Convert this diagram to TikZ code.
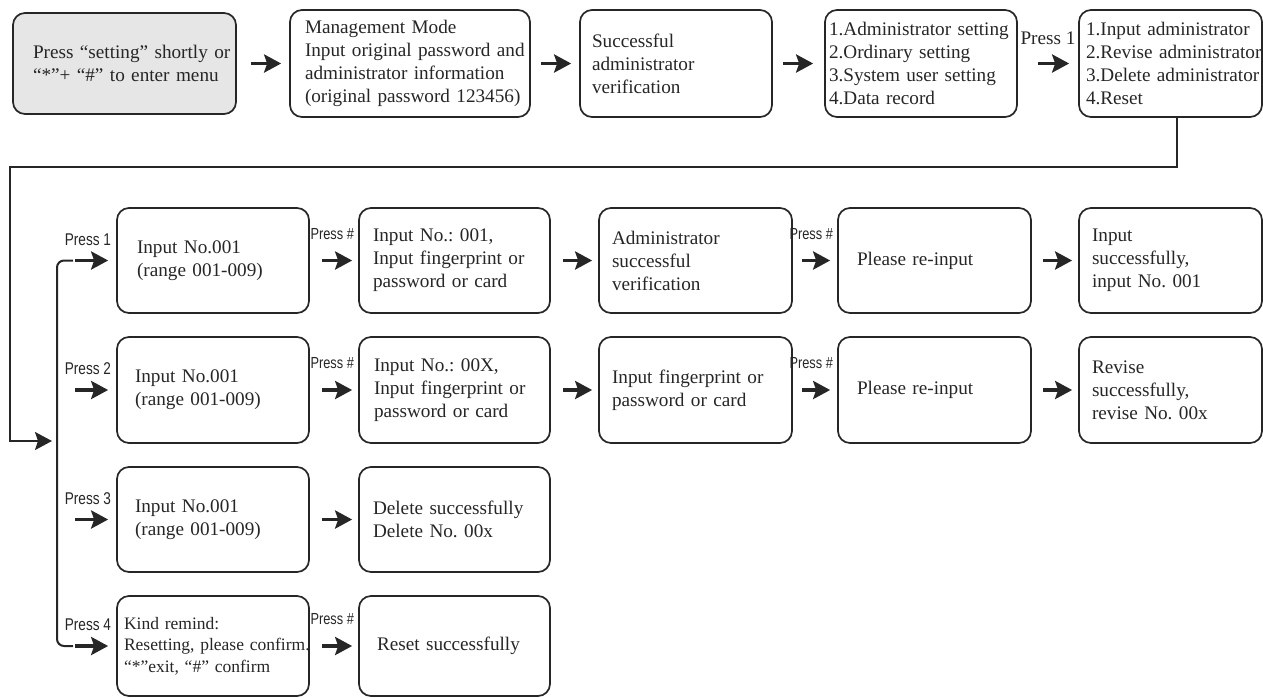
\documentclass[tikz,border=0pt]{standalone}
\usepackage{fontspec}
\setmainfont{Liberation Serif}
\newfontfamily\narrowsans[FakeStretch=0.8]{Liberation Sans}
\usetikzlibrary{arrows.meta}
\definecolor{ink}{HTML}{262626}
\definecolor{greyfill}{HTML}{E6E6E6}
\newcommand\li[1]{\mbox{#1}}
\begin{document}
\begin{tikzpicture}[x=1pt,y=-1pt,
  box/.style={draw=ink, line width=1.7pt, rounded corners=12pt, align=left, inner ysep=0pt,
    font=\fontsize{19.2}{23}\selectfont, text=ink, execute at begin node={\frenchspacing}},
  tip/.tip={Stealth[length=17pt,width=18pt,inset=3pt]},
  arr/.style={draw=ink, line width=3.6pt, -tip},
  conn/.style={draw=ink, line width=2pt},
  presslab/.style={font=\narrowsans\fontsize{17}{17}\selectfont, text=ink, inner sep=0pt, anchor=south east},
  hashlab/.style={font=\narrowsans\fontsize{16}{16}\selectfont, text=ink, inner sep=0pt, anchor=south east},
  seriflab/.style={font=\fontsize{19.2}{19.2}\selectfont, text=ink, inner sep=0pt},
]
\useasboundingbox (0,0) rectangle (1263,697);

% ---------- top row ----------
\node[box, fill=greyfill, minimum width=223pt, minimum height=101pt, inner xsep=20pt, text width=183pt] (A) at (124.5,63.5)
  {\li{Press “setting” shortly or}\\\li{“*”+ “\#” to enter menu}};
\node[box, minimum width=240pt, minimum height=107pt, inner xsep=15pt, text width=210pt] (B) at (410,63.5)
  {\li{Management Mode}\\\li{Input original password and}\\\li{administrator information}\\\li{(original password 123456)}};
\node[box, minimum width=192pt, minimum height=107pt, inner xsep=12pt, text width=168pt] (C) at (676,63.5)
  {Successful\\administrator\\verification};
\node[box, minimum width=192pt, minimum height=107pt, inner xsep=4pt, text width=184pt] (D) at (921,63.5)
  {\li{1.Administrator setting}\\\li{2.Ordinary setting}\\\li{3.System user setting}\\\li{4.Data record}};
\node[box, minimum width=183pt, minimum height=107pt, inner xsep=7pt, text width=169pt] (E) at (1170.5,63.5)
  {\li{1.Input administrator}\\\li{2.Revise administrator}\\\li{3.Delete administrator}\\\li{4.Reset}};

\draw[arr, shorten <=14pt, shorten >=8pt] (A.east) -- (B.west);
\draw[arr, shorten <=10pt, shorten >=8pt] (B.east) -- (C.west);
\draw[arr, shorten <=10pt, shorten >=11pt] (C.east) -- (D.west);
\draw[arr, shorten <=20pt, shorten >=9pt] (D.east) -- (E.west);
\node[seriflab] (p0) at (1048,38) {Press 1};

% ---------- row 1 ----------
\node[box, minimum width=192pt, minimum height=105pt, inner xsep=20pt, text width=152pt] (r1c1) at (213,260.5)
  {\li{Input No.001}\\\li{(range 001-009)}};
\node[box, minimum width=191pt, minimum height=105pt, inner xsep=14pt, text width=163pt] (r1c2) at (454.5,260.5)
  {\li{Input No.: 001,}\\\li{Input fingerprint or}\\\li{password or card}};
\node[box, minimum width=193pt, minimum height=105pt, inner xsep=13pt, text width=167pt] (r1c3) at (695.5,260.5)
  {Administrator\\successful\\verification};
\node[box, minimum width=193pt, minimum height=105pt, inner xsep=19pt, text width=155pt] (r1c4) at (934.5,260.5)
  {\li{Please re-input}};
\node[box, minimum width=183pt, minimum height=105pt, inner xsep=13pt, text width=157pt] (r1c5) at (1170.5,260.5)
  {Input\\\li{successfully,}\\\li{input No. 001}};

% ---------- row 2 ----------
\node[box, minimum width=192pt, minimum height=106pt, inner xsep=18pt, text width=156pt] (r2c1) at (213,390)
  {\li{Input No.001}\\\li{(range 001-009)}};
\node[box, minimum width=191pt, minimum height=106pt, inner xsep=15pt, text width=161pt] (r2c2) at (454.5,390)
  {\li{Input No.: 00X,}\\\li{Input fingerprint or}\\\li{password or card}};
\node[box, minimum width=193pt, minimum height=106pt, inner xsep=13pt, text width=167pt] (r2c3) at (695.5,390)
  {\li{Input fingerprint or}\\\li{password or card}};
\node[box, minimum width=193pt, minimum height=106pt, inner xsep=19pt, text width=155pt] (r2c4) at (934.5,390)
  {\li{Please re-input}};
\node[box, minimum width=183pt, minimum height=106pt, inner xsep=13pt, text width=157pt] (r2c5) at (1170.5,390)
  {Revise\\\li{successfully,}\\\li{revise No. 00x}};

% ---------- row 3 ----------
\node[box, minimum width=192pt, minimum height=105pt, inner xsep=18pt, text width=156pt] (r3c1) at (213,519.5)
  {\li{Input No.001}\\\li{(range 001-009)}};
\node[box, minimum width=191pt, minimum height=105pt, inner xsep=14pt, text width=163pt] (r3c2) at (454.5,519.5)
  {\li{Delete successfully}\\\li{Delete No. 00x}};

% ---------- row 4 ----------
\node[box, minimum width=192pt, minimum height=100pt, inner xsep=7pt, text width=178pt, font=\fontsize{17.5}{21.5}\selectfont] (r4c1) at (213,646)
  {\li{Kind remind:}\\\li{Resetting, please confirm.}\\\li{“*”exit, “\#” confirm}};
\node[box, minimum width=191pt, minimum height=100pt, inner xsep=18pt, text width=155pt] (r4c2) at (454.5,646)
  {\li{Reset successfully}};

% ---------- row connectors ----------
\draw[arr, shorten <=12pt, shorten >=6pt] (r1c1.east) -- (r1c2.west);
\draw[arr, shorten <=12pt, shorten >=6pt] (r1c2.east) -- (r1c3.west);
\draw[arr, shorten <=9pt, shorten >=7pt] (r1c3.east) -- (r1c4.west);
\draw[arr, shorten <=11pt, shorten >=6pt] (r1c4.east) -- (r1c5.west);

\draw[arr, shorten <=12pt, shorten >=6pt] (r2c1.east) -- (r2c2.west);
\draw[arr, shorten <=12pt, shorten >=6pt] (r2c2.east) -- (r2c3.west);
\draw[arr, shorten <=9pt, shorten >=7pt] (r2c3.east) -- (r2c4.west);
\draw[arr, shorten <=11pt, shorten >=6pt] (r2c4.east) -- (r2c5.west);

\draw[arr, shorten <=12pt, shorten >=6pt] (r3c1.east) -- (r3c2.west);
\draw[arr, shorten <=12pt, shorten >=6pt] (r4c1.east) -- (r4c2.west);

\node[hashlab] (h1) at ([xshift=-4pt,yshift=21pt]r1c2.west) {Press \#};
\node[hashlab] (h2) at ([xshift=-4pt,yshift=21pt]r2c2.west) {Press \#};
\node[hashlab] (h3) at ([xshift=-4pt,yshift=21pt]r1c4.west) {Press \#};
\node[hashlab] (h4) at ([xshift=-4pt,yshift=21pt]r2c4.west) {Press \#};
\node[hashlab] (h5) at ([xshift=-4pt,yshift=21pt]r4c2.west) {Press \#};

% ---------- bracket and its arrows ----------
\coordinate (bx) at (75,0);
\coordinate (btop) at (73,260.5);
\coordinate (bbot) at (73,646);
\draw[conn, rounded corners=7pt] (btop) -- (57,260.5) -- (57,646) -- (bbot);
\draw[arr, shorten >=8pt] (bx |- r1c1.west) -- (r1c1.west);
\draw[arr, shorten >=8pt] (bx |- r2c1.west) -- (r2c1.west);
\draw[arr, shorten >=8pt] (bx |- r3c1.west) -- (r3c1.west);
\draw[arr, shorten >=8pt] (bx |- r4c1.west) -- (r4c1.west);
\node[presslab] (q1) at ([xshift=-5pt,yshift=15pt]r1c1.west) {Press 1};
\node[presslab] (q2) at ([xshift=-5pt,yshift=15pt]r2c1.west) {Press 2};
\node[presslab] (q3) at ([xshift=-5pt,yshift=15pt]r3c1.west) {Press 3};
\node[presslab] (q4) at ([xshift=-5pt,yshift=15pt]r4c1.west) {Press 4};

% ---------- long connector from menu to bracket ----------
\coordinate (entry) at (52,441);
\draw[conn, -tip] ([xshift=6.5pt]E.south) -- ++(0,49) -| (10,441) -- (entry);
\end{tikzpicture}
\end{document}
